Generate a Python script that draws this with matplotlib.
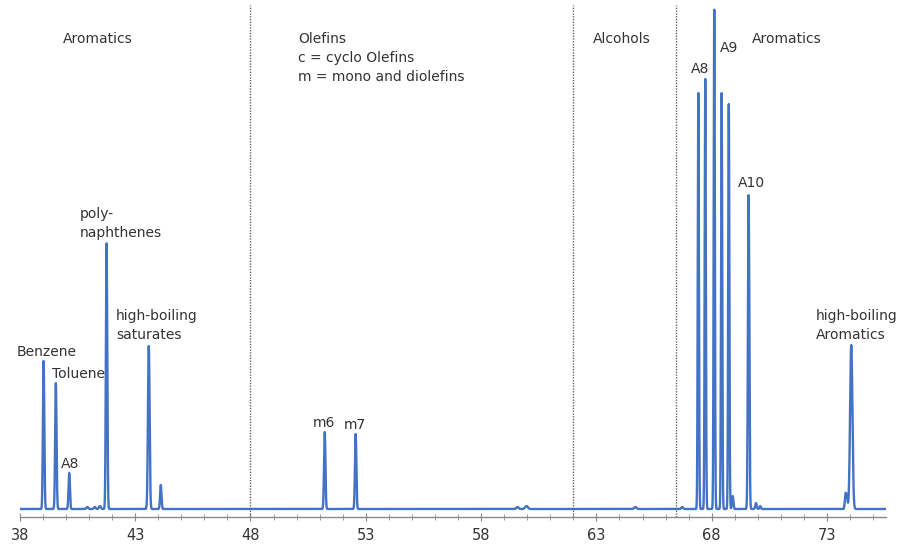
import numpy as np
import matplotlib
matplotlib.use("Agg")
import matplotlib.pyplot as plt

# ---- data (retention time, peak height in arbitrary units) ----
peak_rt = [39.03, 39.56, 40.14, 40.92, 41.25, 41.47, 41.76, 43.59, 44.11,
           51.22, 52.56, 59.58, 59.97, 64.69, 66.72,
           67.42, 67.72, 68.11, 68.43, 68.74, 68.91, 69.60, 69.92, 70.10,
           73.80, 73.86, 74.05]
peak_height = [148, 126, 36, 2, 2, 3, 266, 163, 24,
               77, 75, 2, 3, 2, 2,
               416, 430, 500, 416, 405, 13, 314, 6, 3,
               14, 12, 164]
peak_width = [0.03, 0.03, 0.03, 0.04, 0.04, 0.04, 0.03, 0.035, 0.03,
              0.03, 0.03, 0.05, 0.06, 0.05, 0.04,
              0.025, 0.025, 0.025, 0.025, 0.025, 0.03, 0.03, 0.03, 0.03,
              0.03, 0.03, 0.05]

region_bounds = [48, 62, 66.43]
x_ticks = [38, 43, 48, 53, 58, 63, 68, 73]

region_labels = ["Aromatics", "Olefins\nc = cyclo Olefins\nm = mono and diolefins",
                 "Alcohols", "Aromatics"]
region_label_x = [39.87, 50.06, 62.83, 69.72]

peak_labels = ["Benzene", "Toluene", "A8", "poly-\nnaphthenes", "high-boiling\nsaturates",
               "m6", "m7", "A8", "A9", "A10", "high-boiling\nAromatics"]
peak_label_x = [39.17, 40.53, 40.17, 40.60, 42.17, 51.19, 52.54, 67.51, 68.76, 69.72, 72.52]
peak_label_y = [150, 128, 38, 269, 167, 79, 77, 433, 454, 319, 167]
peak_label_ha = ["center", "center", "center", "left", "left",
                 "center", "center", "center", "center", "center", "left"]

# ---- build trace ----
x = np.linspace(38, 75.55, 12000)
y = np.zeros_like(x)
for c, h, w in zip(peak_rt, peak_height, peak_width):
    y += h * np.exp(-0.5 * ((x - c) / w) ** 2)

fig = plt.figure(figsize=(9.03, 5.46), dpi=100)
ax = fig.add_axes([0.022, 0.0531, 0.959, 0.9377])
ax.plot(x, y, color="#4472C4", lw=1.7, solid_joinstyle="round")

for b in region_bounds:
    ax.axvline(b, color="#666666", lw=1.0, linestyle=(0, (1, 1)))

ax.set_xlim(38, 75.55)
ax.set_ylim(-8, 504)
for s in ["left", "right", "top"]:
    ax.spines[s].set_visible(False)
ax.spines["bottom"].set_color("#8a8a8a")
ax.spines["bottom"].set_linewidth(1.0)
ax.set_yticks([])
ax.set_xticks(x_ticks)
ax.set_xticks(np.arange(38, 76, 1), minor=True)
ax.tick_params(axis="x", which="major", direction="inout", length=6, color="#8a8a8a",
               labelsize=10.5, labelcolor="#333333", pad=5)
ax.tick_params(axis="x", which="minor", direction="inout", length=4, color="#8a8a8a")

for lab, lx in zip(region_labels, region_label_x):
    ax.text(lx, 477, lab, ha="left", va="top", fontsize=10, color="#333333",
            linespacing=1.45)

for lab, lx, ly, ha in zip(peak_labels, peak_label_x, peak_label_y, peak_label_ha):
    ax.text(lx, ly, lab, ha=ha, va="bottom", fontsize=10, color="#333333",
            linespacing=1.5)

fig.savefig("out.png", dpi=100)
